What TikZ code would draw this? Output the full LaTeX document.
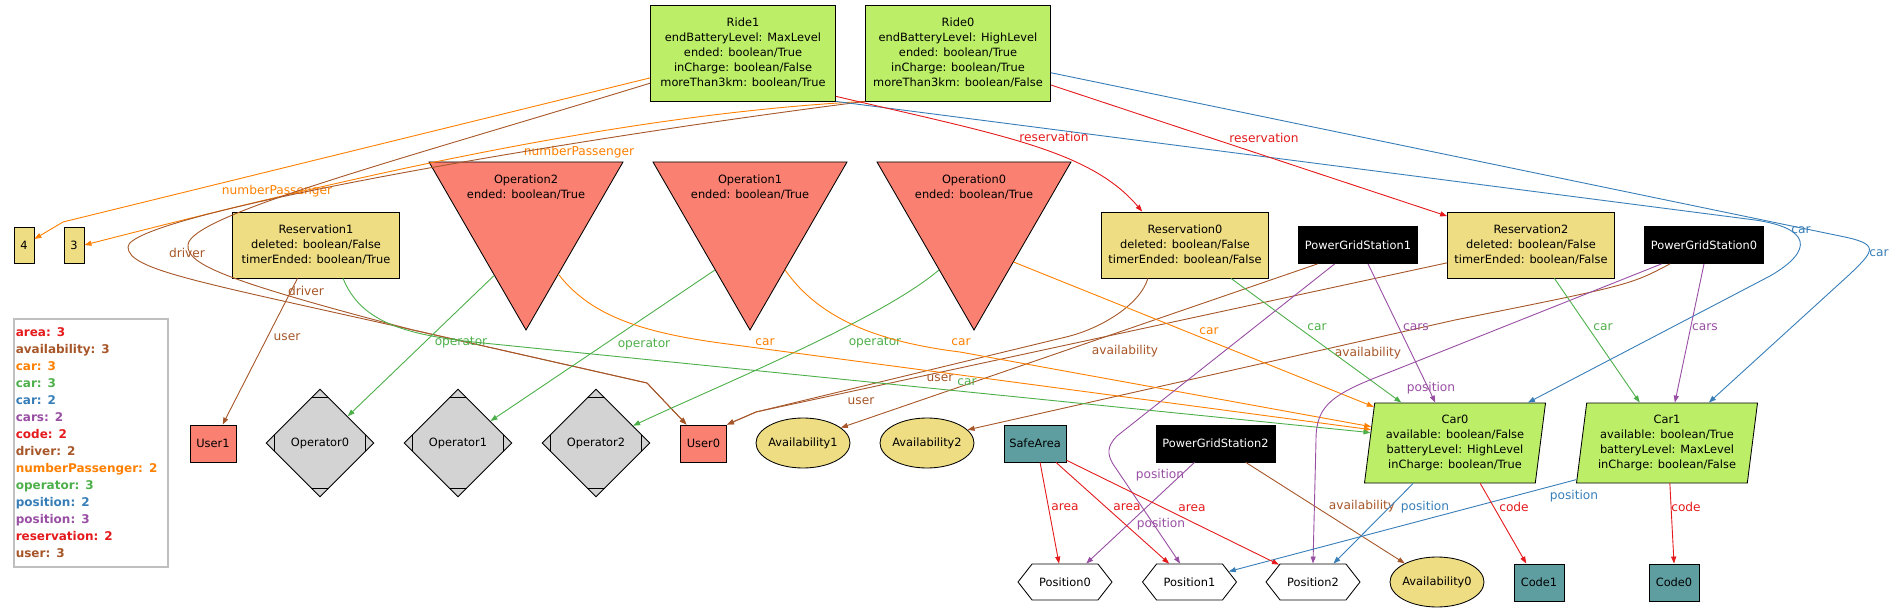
\documentclass[tikz,border=0pt]{standalone}
\usepackage{fontspec}
\setmainfont{DejaVu Sans}
\usetikzlibrary{shapes.geometric,shapes.symbols,arrows.meta}
\definecolor{olivefill}{HTML}{BCEE68}
\definecolor{khakifill}{HTML}{EEDD82}
\definecolor{salmonfill}{HTML}{FA8072}
\definecolor{greyfill}{HTML}{D3D3D3}
\definecolor{cadetfill}{HTML}{5F9EA0}
\definecolor{relred}{HTML}{E41A1C}
\definecolor{relblue}{HTML}{377EB8}
\definecolor{relgreen}{HTML}{4DAF4A}
\definecolor{relpurple}{HTML}{984EA3}
\definecolor{relorange}{HTML}{FF7F00}
\definecolor{relbrown}{HTML}{A65628}

\begin{document}
\begin{tikzpicture}[x=1pt, y=-1pt, >={Triangle[length=7pt,width=5pt]},
    every node/.style={font=\fontsize{11.4}{15}\selectfont},
    cellbox/.style={rectangle, draw, line width=0.85pt, inner sep=2pt, align=center},
    ridebox/.style={cellbox, fill=olivefill, minimum width=185pt, minimum height=96pt},
    resbox/.style={cellbox, fill=khakifill, minimum width=167pt, minimum height=66pt},
    numbox/.style={cellbox, fill=khakifill, minimum width=20pt, minimum height=36pt},
    pgsbox/.style={cellbox, fill=black, text=white, minimum width=119pt, minimum height=37pt},
    userbox/.style={cellbox, fill=salmonfill, minimum width=46pt, minimum height=37pt},
    codebox/.style={cellbox, fill=cadetfill, minimum width=50pt, minimum height=37pt},
    optri/.style={regular polygon, regular polygon sides=3, shape border rotate=180, draw, line width=0.85pt, fill=salmonfill, minimum size=224pt, inner sep=0pt},
    optext/.style={align=center, inner sep=0pt},
    oprbox/.style={diamond, draw, line width=0.85pt, fill=greyfill, minimum width=108pt, minimum height=108pt, inner sep=0pt,
        path picture={
            \draw[line width=0.85pt] ([yshift=-8pt]path picture bounding box.north) ++(-30pt,0pt) -- ++(60pt,0pt);
            \draw[line width=0.85pt] ([yshift=8pt]path picture bounding box.south) ++(-30pt,0pt) -- ++(60pt,0pt);
            \draw[line width=0.85pt] ([xshift=8pt]path picture bounding box.west) ++(0pt,-30pt) -- ++(0pt,60pt);
            \draw[line width=0.85pt] ([xshift=-8pt]path picture bounding box.east) ++(0pt,-30pt) -- ++(0pt,60pt);}},
    availell/.style={ellipse, draw, line width=0.85pt, fill=khakifill, minimum width=94pt, minimum height=50pt, inner xsep=-3pt, inner ysep=0pt},
    posbox/.style={signal, signal to=east and west, signal pointer angle=104, draw, line width=0.85pt, fill=white, minimum width=94pt, minimum height=36pt, inner sep=1pt},
    carbox/.style={trapezium, trapezium left angle=80, trapezium right angle=100, trapezium stretches body, draw, line width=0.85pt, fill=olivefill, minimum width=181pt, minimum height=80pt, inner sep=1pt, align=center},
    legendbox/.style={rectangle, draw=black!25, line width=1.6pt, anchor=north west, text width=150pt, inner xsep=2pt, inner ysep=9pt, align=left, font=\fontsize{12}{17}\selectfont\bfseries},
    rel/.style={->, line width=0.9pt},
    lbl/.style={font=\fontsize{12.2}{14}\selectfont, inner sep=0pt}]

\useasboundingbox (0,0) rectangle (1898,612);

% Rides
\node[ridebox] (ride1) at (743,53) {Ride1\\endBatteryLevel: MaxLevel\\ended: boolean/True\\inCharge: boolean/False\\moreThan3km: boolean/True};
\node[ridebox] (ride0) at (958,53) {Ride0\\endBatteryLevel: HighLevel\\ended: boolean/True\\inCharge: boolean/True\\moreThan3km: boolean/False};

% Reservations, operations, stations
\node[numbox] (n4) at (24,245) {4};
\node[numbox] (n3) at (74,245) {3};
\node[resbox] (res1) at (316,245) {Reservation1\\deleted: boolean/False\\timerEnded: boolean/True};
\node[optri] (op2) at (526,218) {};
\node[optext] (op2t) at (526,187) {Operation2\\ended: boolean/True};
\node[optri] (op1) at (750,218) {};
\node[optext] (op1t) at (750,187) {Operation1\\ended: boolean/True};
\node[optri] (op0) at (974,218) {};
\node[optext] (op0t) at (974,187) {Operation0\\ended: boolean/True};
\node[resbox] (res0) at (1185,245) {Reservation0\\deleted: boolean/False\\timerEnded: boolean/False};
\node[pgsbox] (pgs1) at (1358,245) {PowerGridStation1};
\node[resbox] (res2) at (1531,245) {Reservation2\\deleted: boolean/False\\timerEnded: boolean/False};
\node[pgsbox] (pgs0) at (1704,245) {PowerGridStation0};

% Legend
\node[legendbox] (legend) at (13,318) {\textcolor{relred}{area: 3}\\
\textcolor{relbrown}{availability: 3}\\
\textcolor{relorange}{car: 3}\\
\textcolor{relgreen}{car: 3}\\
\textcolor{relblue}{car: 2}\\
\textcolor{relpurple}{cars: 2}\\
\textcolor{relred}{code: 2}\\
\textcolor{relbrown}{driver: 2}\\
\textcolor{relorange}{numberPassenger: 2}\\
\textcolor{relgreen}{operator: 3}\\
\textcolor{relblue}{position: 2}\\
\textcolor{relpurple}{position: 3}\\
\textcolor{relred}{reservation: 2}\\
\textcolor{relbrown}{user: 3}};

% Users, operators, availabilities, cars
\node[userbox] (user1) at (213,443.5) {User1};
\node[oprbox] (opr0) at (320,443) {Operator0};
\node[oprbox] (opr1) at (458,443) {Operator1};
\node[oprbox] (opr2) at (596,443) {Operator2};
\node[userbox] (user0) at (703.5,443.5) {User0};
\node[availell] (av1) at (803,443) {Availability1};
\node[availell] (av2) at (927,443) {Availability2};
\node[codebox, minimum width=62pt] (safe) at (1035,443.5) {SafeArea};
\node[pgsbox] (pgs2) at (1215.5,443.5) {PowerGridStation2};
\node[carbox] (car0) at (1455,443) {Car0\\available: boolean/False\\batteryLevel: HighLevel\\inCharge: boolean/True};
\node[carbox] (car1) at (1667,443) {Car1\\available: boolean/True\\batteryLevel: MaxLevel\\inCharge: boolean/False};

% Positions and codes
\node[posbox] (pos0) at (1065,582) {Position0};
\node[posbox] (pos1) at (1189.5,582) {Position1};
\node[posbox] (pos2) at (1313,582) {Position2};
\node[availell] (av0) at (1437,582) {Availability0};
\node[codebox] (code1) at (1539,582.5) {Code1};
\node[codebox] (code0) at (1674,582.5) {Code0};

% numberPassenger
\draw[rel, relorange] (ride1.195) -- (63,222) -- (n4.30)
    node[lbl, text=relorange] (lNP1) at (277,191) {numberPassenger};
\draw[rel, relorange] (ride0.south west) .. controls (600,115) and (300,190) .. (n3.east)
    node[lbl, text=relorange] (lNP0) at (579,152) {numberPassenger};

% driver
\draw[rel, relbrown] (ride1.198) .. controls (400,160) and (190,215) .. (188,245)
    .. controls (186,265) and (230,282) .. (413,330) -- (647,383) -- (user0.132)
    node[lbl, text=relbrown] (lDr1) at (187,253) {driver};
\draw[rel, relbrown] (ride0.south west) .. controls (560,140) and (128,215) .. (128,247)
    .. controls (128,270) and (200,282) .. (413,330) -- (647,383) -- (user0.132)
    node[lbl, text=relbrown] (lDr0) at (306,291) {driver};

% user
\draw[rel, relbrown] (res1.241) -- (user1.63)
    node[lbl, text=relbrown] (lUs1) at (287,337) {user};
\draw[rel, relbrown] (res0.222) .. controls (1140,305) and (1100,329) .. (1066,337) -- (756,412) -- (user0.north east)
    node[lbl, text=relbrown] (lUs0) at (940,378) {user};
\draw[rel, relbrown] (res2.192) -- (756,412) -- (user0.north east)
    node[lbl, text=relbrown] (lUs2) at (861,401) {user};

% availability
\draw[rel, relbrown] (pgs1.205) -- (av1.22)
    node[lbl, text=relbrown] (lAv1) at (1125,351) {availability};
\draw[rel, relbrown] (pgs0.209) .. controls (1630,285) .. (1455,320) -- (av2.18)
    node[lbl, text=relbrown] (lAv2) at (1368,353) {availability};
\draw[rel, relbrown] (pgs2.328) -- (av0.150)
    node[lbl, text=relbrown] (lAv0) at (1362,506) {availability};

% operator
\draw[rel, relgreen] (op2.241) -- (opr0.44)
    node[lbl, text=relgreen] (lOp2) at (461,342) {operator};
\draw[rel, relgreen] (op1.236) -- (opr1.34)
    node[lbl, text=relgreen] (lOp1) at (644,344) {operator};
\draw[rel, relgreen] (op0.236) .. controls (880,320) and (720,385) .. (opr2.25)
    node[lbl, text=relgreen] (lOp0) at (875,342) {operator};

% car (operations)
\draw[rel, relorange] (op2.300) .. controls (590,315) and (640,332) .. (720,343) -- (car0.171)
    node[lbl, text=relorange] (lCo2) at (765,342) {car};
\draw[rel, relorange] (op1.304) .. controls (820,320) and (880,342) .. (960,352) -- (car0.169)
    node[lbl, text=relorange] (lCo1) at (961,342) {car};
\draw[rel, relorange] (op0.312) -- (car0.156)
    node[lbl, text=relorange] (lCo0) at (1209,331) {car};

% car (reservations)
\draw[rel, relgreen] (res1.309) .. controls (360,320) and (400,335) .. (483,343) -- (car0.173)
    node[lbl, text=relgreen] (lCr1) at (967,382) {car};
\draw[rel, relgreen] (res0.324) -- (car0.143)
    node[lbl, text=relgreen] (lCr0) at (1317,327) {car};
\draw[rel, relgreen] (res2.305) -- (car1.124)
    node[lbl, text=relgreen] (lCr2) at (1603,327) {car};

% car (rides)
\draw[rel, relblue] (ride1.south east) -- (1755,220) .. controls (1810,228) and (1815,250) .. (1770,276) -- (car0.29)
    node[lbl, text=relblue] (lCb1) at (1801,230) {car};
\draw[rel, relblue] (ride0.348) -- (1840,236) .. controls (1880,244) and (1875,250) .. (1850,274) -- (car1.44)
    node[lbl, text=relblue] (lCb0) at (1879,253) {car};

% reservation
\draw[rel, relred] (ride1.335) .. controls (1000,135) and (1090,150) .. (res0.142)
    node[lbl, text=relred] (lRe1) at (1054,137) {reservation};
\draw[rel, relred] (ride0.341) -- (res2.161)
    node[lbl, text=relred] (lRe0) at (1264,138) {reservation};

% cars
\draw[rel, relpurple] (pgs1.298) -- (car0.116)
    node[lbl, text=relpurple] (lCs1) at (1416,327) {cars};
\draw[rel, relpurple] (pgs0.south) -- (car1.79)
    node[lbl, text=relpurple] (lCs0) at (1705,327) {cars};

% position
\draw[rel, relpurple] (pgs2.222) -- (pos0.41)
    node[lbl, text=relpurple] (lPp2) at (1160,475) {position};
\draw[rel, relpurple] (pgs1.219) -- (1117,436) .. controls (1107,446) and (1107,454) .. (1113,464) -- (pos1.117)
    node[lbl, text=relpurple] (lPp1) at (1161,524) {position};
\draw[rel, relpurple] (pgs0.204) -- (1390,372) .. controls (1332,394) and (1316,405) .. (1316,440) -- (pos2.north)
    node[lbl, text=relpurple] (lPp0) at (1431,388) {position};
\draw[rel, relblue] (car0.224) -- (pos2.42)
    node[lbl, text=relblue] (lPb0) at (1425,507) {position};
\draw[rel, relblue] (car1.202) -- (pos1.15)
    node[lbl, text=relblue] (lPb1) at (1574,496) {position};

% area
\draw[rel, relred] (safe.285) -- (pos0.108)
    node[lbl, text=relred] (lAr0) at (1065,507) {area};
\draw[rel, relred] (safe.318) -- (pos1.138)
    node[lbl, text=relred] (lAr1) at (1127,507) {area};
\draw[rel, relred] (safe.332) -- (pos2.153)
    node[lbl, text=relred] (lAr2) at (1192,508) {area};

% code
\draw[rel, relred] (car0.302) -- (code1.124)
    node[lbl, text=relred] (lCd1) at (1514,507) {code};
\draw[rel, relred] (car1.274) -- (code0.north)
    node[lbl, text=relred] (lCd0) at (1686,507) {code};

\end{tikzpicture}
\end{document}
